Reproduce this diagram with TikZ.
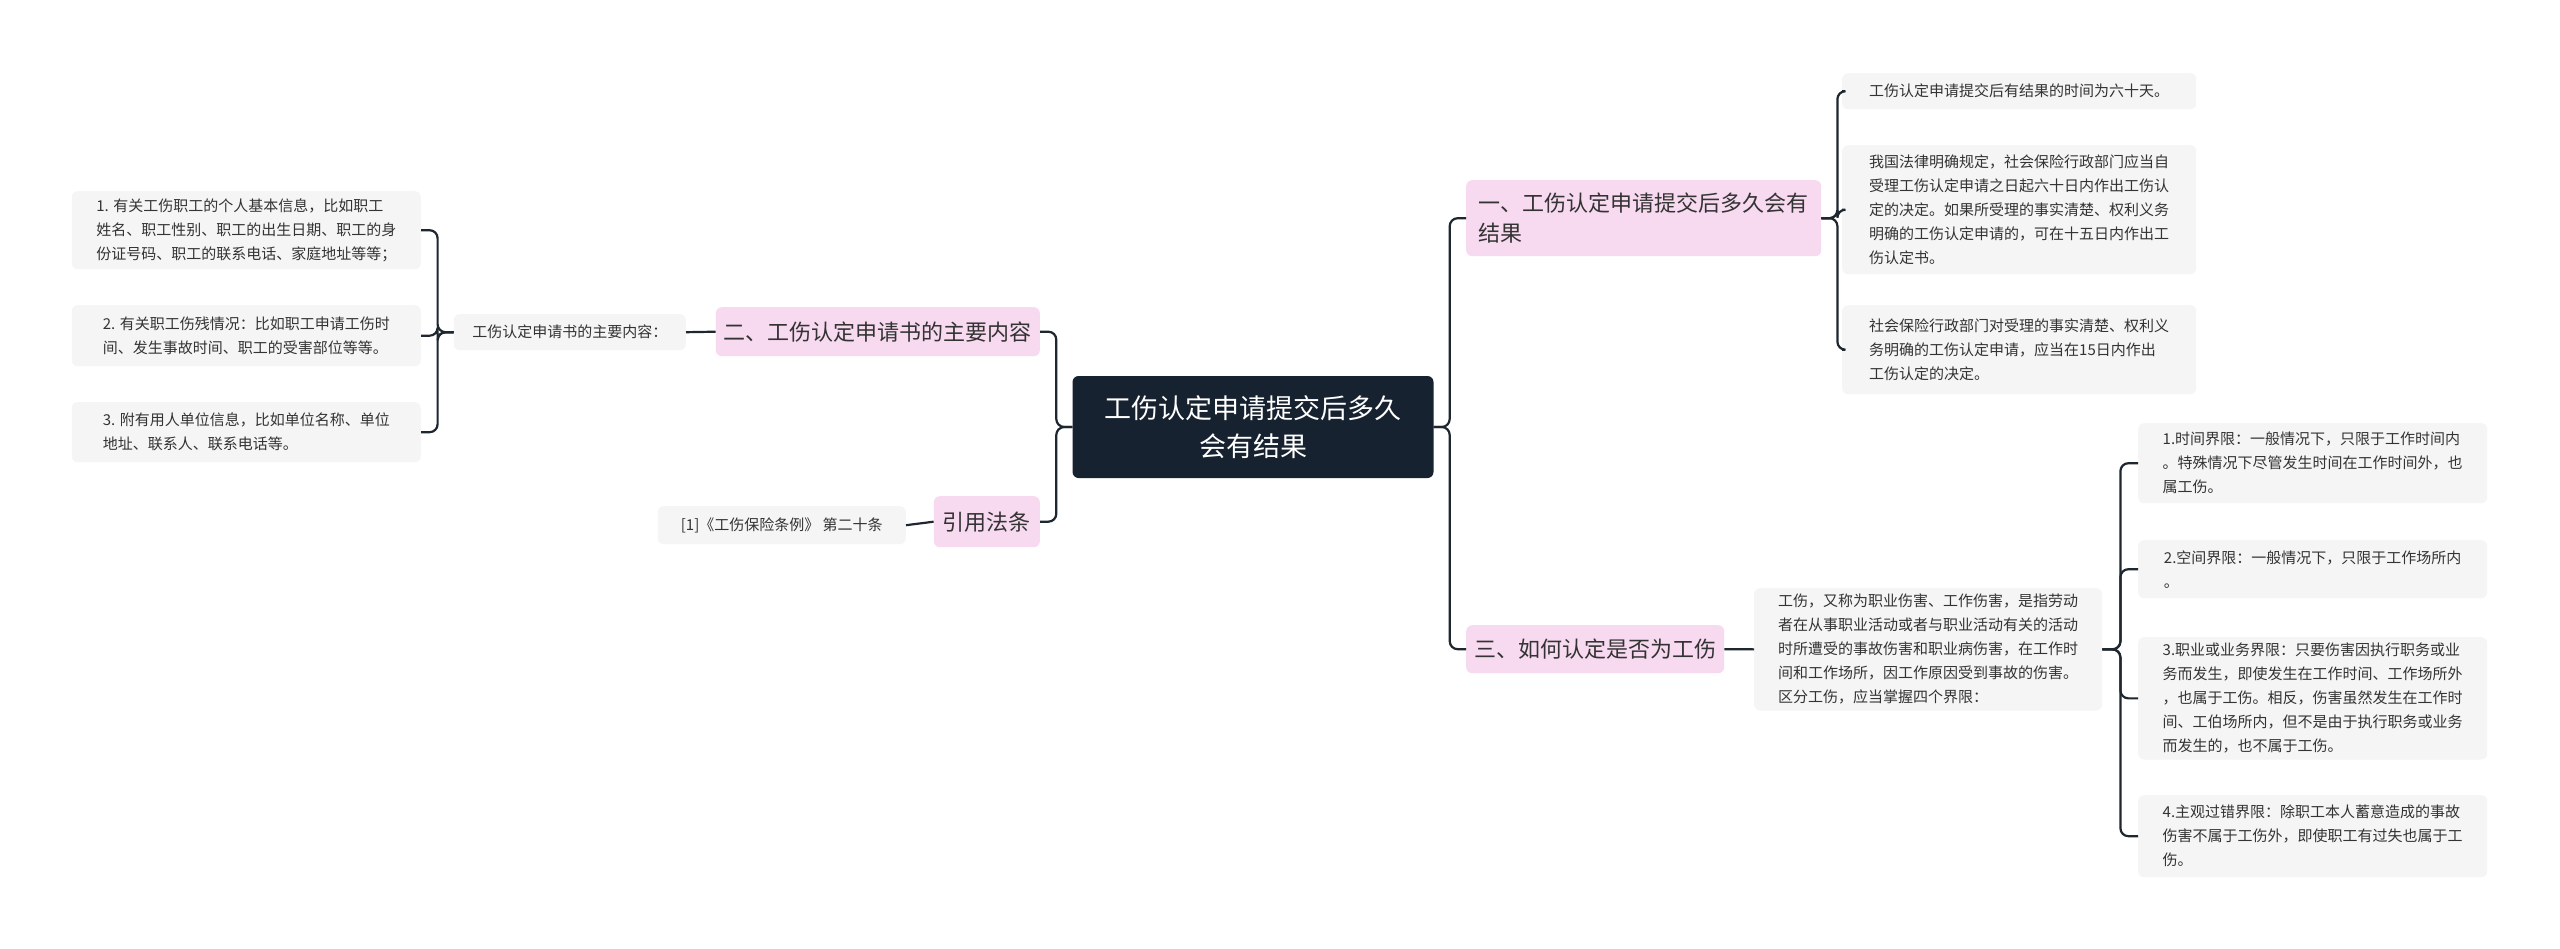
\documentclass[tikz,border=0pt]{standalone}
\usepackage{fontspec}
\setmainfont{Noto Sans CJK SC}
\begin{document}
\begin{tikzpicture}[x=1pt,y=-1pt,
 leaf/.style={fill=leafc,rounded corners=6pt,align=left,font=\fontsize{15}{24}\selectfont,text=textc,inner xsep=8pt,inner ysep=6pt,anchor=north west},
 br/.style={fill=pinkc,rounded corners=6pt,align=left,font=\fontsize{22}{30}\selectfont,text=textc,inner xsep=8pt,inner ysep=6pt,anchor=north west},
 con/.style={draw=linec,line width=2.2pt,rounded corners=8pt}]
\definecolor{leafc}{HTML}{F5F5F5}
\definecolor{pinkc}{HTML}{F7DAF0}
\definecolor{rootc}{HTML}{172230}
\definecolor{linec}{HTML}{1E2630}
\definecolor{textc}{HTML}{333333}
\useasboundingbox (0,0) rectangle (2560,948);
\fill[white] (0,0) rectangle (2560,948);
% root
\node[fill=rootc,rounded corners=6pt,text=white,align=center,font=\fontsize{27}{38}\selectfont,minimum width=361pt,minimum height=102pt] (root) at (1253,427) {工伤认定申请提交后多久\\会有结果};
% right branches
\node[br,minimum width=355pt,minimum height=76pt] (b1) at (1466,180) {一、工伤认定申请提交后多久会有\\结果};
\node[br,minimum width=258pt,minimum height=48pt] (b3) at (1466,625) {三、如何认定是否为工伤};
\node[leaf,minimum width=354pt,minimum height=36pt] (r1) at (1842,73) {工伤认定申请提交后有结果的时间为六十天。};
\node[leaf,minimum width=354pt,minimum height=129pt] (r2) at (1842,145) {我国法律明确规定，社会保险行政部门应当自\\受理工伤认定申请之日起六十日内作出工伤认\\定的决定。如果所受理的事实清楚、权利义务\\明确的工伤认定申请的，可在十五日内作出工\\伤认定书。};
\node[leaf,minimum width=354pt,minimum height=89pt] (r3) at (1842,305) {社会保险行政部门对受理的事实清楚、权利义\\务明确的工伤认定申请，应当在15日内作出\\工伤认定的决定。};
\node[leaf,minimum width=348pt,minimum height=122pt] (d0) at (1754,588) {工伤，又称为职业伤害、工作伤害，是指劳动\\者在从事职业活动或者与职业活动有关的活动\\时所遭受的事故伤害和职业病伤害，在工作时\\间和工作场所，因工作原因受到事故的伤害。\\区分工伤，应当掌握四个界限：};
\node[leaf,minimum width=349pt,minimum height=80pt] (d1) at (2138,423) {1.时间界限：一般情况下，只限于工作时间内\\。特殊情况下尽管发生时间在工作时间外，也\\属工伤。};
\node[leaf,minimum width=349pt,minimum height=58pt] (d2) at (2138,540) {2.空间界限：一般情况下，只限于工作场所内\\。};
\node[leaf,minimum width=349pt,minimum height=121pt] (d3) at (2138,637) {3.职业或业务界限：只要伤害因执行职务或业\\务而发生，即使发生在工作时间、工作场所外\\，也属于工伤。相反，伤害虽然发生在工作时\\间、工伯场所内，但不是由于执行职务或业务\\而发生的，也不属于工伤。};
\node[leaf,minimum width=349pt,minimum height=82pt] (d4) at (2138,795) {4.主观过错界限：除职工本人蓄意造成的事故\\伤害不属于工伤外，即使职工有过失也属于工\\伤。};
% left
\node[br,anchor=north east,minimum width=320pt,minimum height=49pt] (b2) at (1040,307) {二、工伤认定申请书的主要内容};
\node[br,anchor=north east,minimum width=106pt,minimum height=51pt] (b4) at (1040,496) {引用法条};
\node[leaf,anchor=north east,minimum width=232pt,minimum height=36pt] (m) at (686,314) {工伤认定申请书的主要内容：};
\node[leaf,anchor=north east,minimum width=248pt,minimum height=38pt] (ref) at (906,506) {[1]《工伤保险条例》 第二十条};
\node[leaf,anchor=north east,minimum width=349pt,minimum height=78pt] (l1) at (421,191) {1. 有关工伤职工的个人基本信息，比如职工\\姓名、职工性别、职工的出生日期、职工的身\\份证号码、职工的联系电话、家庭地址等等；};
\node[leaf,anchor=north east,minimum width=349pt,minimum height=61pt] (l2) at (421,305) {2. 有关职工伤残情况：比如职工申请工伤时\\间、发生事故时间、职工的受害部位等等。};
\node[leaf,anchor=north east,minimum width=349pt,minimum height=60pt] (l3) at (421,402) {3. 附有用人单位信息，比如单位名称、单位\\地址、联系人、联系电话等。};
% connectors
\foreach \c in {b1,b3} \draw[con] (root.east) -- ++(16,0) |- (\c.west);
\foreach \c in {b2,b4} \draw[con] (root.west) -- ++(-16,0) |- (\c.east);
\foreach \c in {r1,r2,r3} \draw[con] (b1.east) -- ++(16,0) |- (\c.west);
\draw[con] (b3.east) -- (d0.west);
\foreach \c in {d1,d2,d3,d4} \draw[con] (d0.east) -- ++(18,0) |- (\c.west);
\draw[con] (b2.west) -- (m.east);
\draw[con] (b4.west) -- (ref.east);
\foreach \c in {l1,l2,l3} \draw[con] (m.west) -- ++(-16,0) |- (\c.east);
\end{tikzpicture}
\end{document}
